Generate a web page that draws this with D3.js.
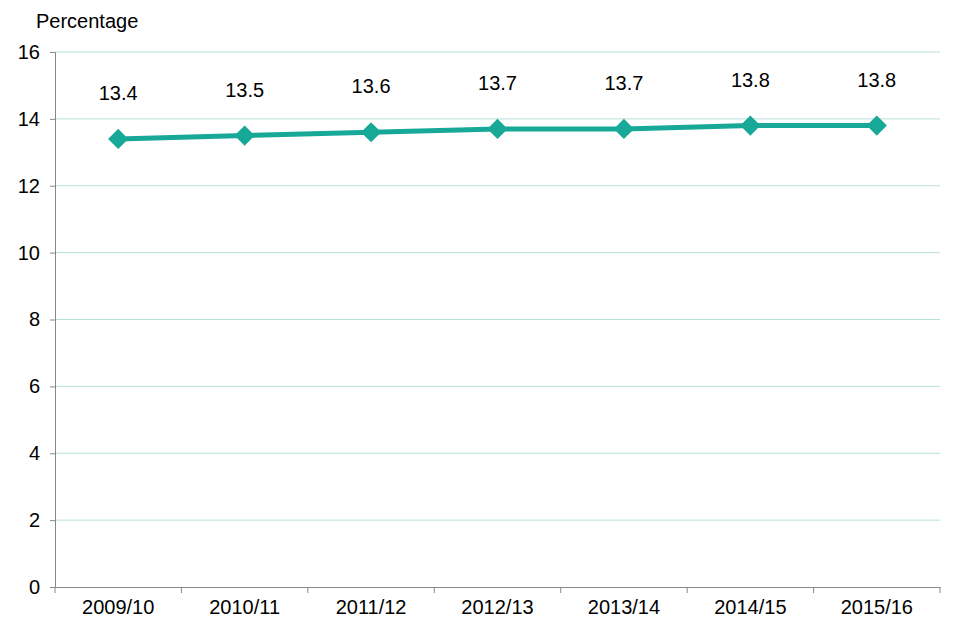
<!DOCTYPE html>
<html>
<head>
<meta charset="utf-8">
<script src="https://cdn.jsdelivr.net/npm/d3@7"></script>
<style>
  body { margin: 0; background: #fff; }
  text { font-family: "Liberation Sans", Arial, sans-serif; }
</style>
</head>
<body>
<svg id="chart" width="960" height="640"></svg>
<script>
const years = ['2009/10', '2010/11', '2011/12', '2012/13', '2013/14', '2014/15', '2015/16'];
const values = [13.4, 13.5, 13.6, 13.7, 13.7, 13.8, 13.8];
const yTicks = [0, 2, 4, 6, 8, 10, 12, 14, 16];

const margin = { top: 52, right: 20, bottom: 53, left: 55 };
const width = 960, height = 640;
const fs = 20;
const svg = d3.select('#chart');

const x = d3.scaleBand().domain(years).range([margin.left, width - margin.right]);
const y = d3.scaleLinear().domain([0, 16]).range([height - margin.bottom, margin.top]);

// Gridlines
svg.append('g')
  .selectAll('line')
  .data(yTicks.filter(d => d > 0))
  .join('line')
  .attr('x1', margin.left).attr('x2', width - margin.right)
  .attr('y1', d => y(d)).attr('y2', d => y(d))
  .attr('stroke', '#b7e0da').attr('stroke-width', 1);

// Y axis
const yAxis = svg.append('g')
  .attr('transform', `translate(${margin.left},0)`)
  .call(d3.axisLeft(y).tickValues(yTicks).tickSize(5).tickPadding(10));
yAxis.select('.domain').attr('stroke', '#888');
yAxis.selectAll('.tick line').attr('stroke', '#888');
yAxis.selectAll('text').attr('font-size', fs).attr('fill', '#000');

// X axis
const xAxis = svg.append('g')
  .attr('transform', `translate(0,${y(0)})`)
  .call(d3.axisBottom(x).tickSize(0).tickPadding(13).tickSizeOuter(0));
xAxis.select('.domain').attr('stroke', '#888');
xAxis.selectAll('text').attr('font-size', fs).attr('fill', '#000');
// tick marks between categories
svg.append('g')
  .selectAll('line')
  .data(d3.range(years.length + 1))
  .join('line')
  .attr('x1', i => margin.left + i * x.step()).attr('x2', i => margin.left + i * x.step())
  .attr('y1', y(0)).attr('y2', y(0) + 6)
  .attr('stroke', '#888');

// Axis title
svg.append('text')
  .attr('x', 36).attr('y', 28)
  .attr('font-size', fs)
  .text('Percentage');

const cx = d => x(d) + x.bandwidth() / 2;
const color = '#17a898';

// Line
svg.append('path')
  .datum(values)
  .attr('fill', 'none')
  .attr('stroke', color)
  .attr('stroke-width', 5)
  .attr('d', d3.line().x((d, i) => cx(years[i])).y(d => y(d)));

// Markers
svg.append('g')
  .selectAll('path')
  .data(values)
  .join('path')
  .attr('transform', (d, i) => `translate(${cx(years[i])},${y(d)})`)
  .attr('d', d3.symbol().type(d3.symbolDiamond2).size(260))
  .attr('fill', color);

// Labels
svg.append('g')
  .selectAll('text')
  .data(values)
  .join('text')
  .attr('x', (d, i) => cx(years[i]))
  .attr('y', d => y(d) - 39)
  .attr('text-anchor', 'middle')
  .attr('font-size', fs)
  .text(d => d.toFixed(1));
</script>
</body>
</html>
